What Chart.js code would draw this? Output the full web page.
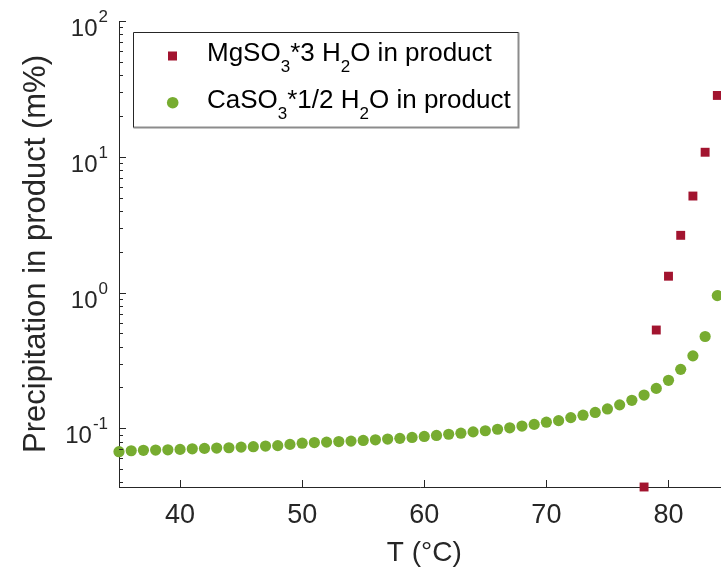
<!DOCTYPE html>
<html>
<head>
<meta charset="utf-8">
<script src="https://cdn.jsdelivr.net/npm/chart.js@4/dist/chart.umd.min.js"></script>
<style>
  html, body { margin: 0; padding: 0; background: #fff; overflow: hidden; }
  #chart { display: block; }
</style>
</head>
<body>
<canvas id="chart" width="721" height="570"></canvas>
<script>
// temperatures (°C)
const tempsCa = [35, 36, 37, 38, 39, 40, 41, 42, 43, 44, 45, 46, 47, 48, 49, 50, 51, 52, 53, 54,
  55, 56, 57, 58, 59, 60, 61, 62, 63, 64, 65, 66, 67, 68, 69, 70, 71, 72, 73, 74,
  75, 76, 77, 78, 79, 80, 81, 82, 83, 84];
const caValues = [0.0673, 0.0684, 0.0689, 0.0692, 0.0695, 0.0700, 0.0707, 0.0712, 0.0716, 0.0720,
  0.0728, 0.0733, 0.0741, 0.0746, 0.0762, 0.0778, 0.0786, 0.0792, 0.0800, 0.0806,
  0.0815, 0.0824, 0.0834, 0.0844, 0.0857, 0.0872, 0.0887, 0.0905, 0.0921, 0.0942,
  0.0960, 0.0985, 0.101, 0.104, 0.107, 0.111, 0.114, 0.120, 0.125, 0.131,
  0.139, 0.149, 0.161, 0.176, 0.197, 0.226, 0.272, 0.342, 0.475, 0.95];

const tempsMg = [78, 79, 80, 81, 82, 83, 84];
const mgValues = [0.037, 0.53, 1.32, 2.64, 5.14, 10.8, 28.3];

const xTicks = [40, 50, 60, 70, 80];
const yTickExps = [-1, 0, 1, 2];

const RED = '#A2142F';
const GREEN = '#77AC30';
const AX = '#262626';
const FONT = '"Liberation Sans", Arial, Helvetica, sans-serif';

// ticks inside the axes, tick labels, axis titles and legend
const decor = {
  id: 'decor',
  afterDraw(chart) {
    const ctx = chart.ctx;
    const xs = chart.scales.x, ys = chart.scales.y;
    const area = chart.chartArea;
    ctx.save();
    ctx.strokeStyle = AX;
    ctx.lineWidth = 1;

    // x ticks
    ctx.beginPath();
    xTicks.forEach(v => {
      const px = Math.round(xs.getPixelForValue(v)) + 0.5;
      ctx.moveTo(px, area.bottom);
      ctx.lineTo(px, area.bottom - 7);
    });
    // y ticks (major + minor)
    for (let e = -2; e <= 2; e++) {
      for (let m = 1; m <= 9; m++) {
        const v = m * Math.pow(10, e);
        if (v < ys.min || v > ys.max) continue;
        const py = Math.round(ys.getPixelForValue(v)) + 0.5;
        ctx.moveTo(area.left, py);
        ctx.lineTo(area.left + (m === 1 ? 7 : 4), py);
      }
    }
    ctx.stroke();

    ctx.fillStyle = AX;
    // x tick labels
    ctx.font = '27px ' + FONT;
    ctx.textAlign = 'center';
    ctx.textBaseline = 'middle';
    xTicks.forEach(v => ctx.fillText(String(v), xs.getPixelForValue(v), 516));

    // y tick labels 10^n
    ctx.textBaseline = 'alphabetic';
    ctx.textAlign = 'left';
    yTickExps.forEach(e => {
      const py = ys.getPixelForValue(Math.pow(10, e));
      const sup = String(e);
      ctx.font = '17px ' + FONT;
      const wSup = ctx.measureText(sup).width;
      ctx.font = '24px ' + FONT;
      const wBase = ctx.measureText('10').width;
      const right = 108;
      const x0 = right - wSup - wBase - 1;
      ctx.fillText('10', x0, py + 15);
      ctx.font = '17px ' + FONT;
      ctx.fillText(sup, x0 + wBase + 1, py + 1);
    });

    // axis titles (x title centred on the full 35–85 axis, which runs past the edge)
    ctx.font = '28px ' + FONT;
    ctx.textAlign = 'center';
    ctx.textBaseline = 'middle';
    ctx.fillText('T (°C)', (xs.getPixelForValue(35) + xs.getPixelForValue(85)) / 2, 553);
    ctx.save();
    ctx.translate(36, 254);
    ctx.rotate(-Math.PI / 2);
    ctx.font = '31px ' + FONT;
    ctx.fillText('Precipitation in product (m%)', 0, 0);
    ctx.restore();

    // legend box
    const lx = 133.5, ly = 32.5, lw = 385, lh = 95;
    ctx.fillStyle = '#fff';
    ctx.fillRect(lx, ly, lw, lh);
    ctx.strokeStyle = '#8c8c8c';
    ctx.lineWidth = 2;
    ctx.beginPath();
    ctx.moveTo(lx + lw, ly);
    ctx.lineTo(lx + lw, ly + lh);
    ctx.lineTo(lx, ly + lh);
    ctx.stroke();
    ctx.strokeStyle = AX;
    ctx.lineWidth = 1;
    ctx.beginPath();
    ctx.moveTo(lx, ly + lh);
    ctx.lineTo(lx, ly);
    ctx.lineTo(lx + lw, ly);
    ctx.stroke();

    ctx.fillStyle = RED;
    ctx.fillRect(168, 51.5, 9, 9);
    ctx.fillStyle = GREEN;
    ctx.beginPath();
    ctx.arc(172.7, 102.7, 5.8, 0, Math.PI * 2);
    ctx.fill();

    // legend text with subscripts
    const drawRuns = (runs, x, y) => {
      ctx.textAlign = 'left';
      ctx.textBaseline = 'alphabetic';
      ctx.fillStyle = '#000';
      runs.forEach(r => {
        ctx.font = (r[1] ? '17px ' : '26px ') + FONT;
        ctx.fillText(r[0], x, r[1] ? y + 11 : y);
        x += ctx.measureText(r[0]).width;
      });
    };
    drawRuns([['MgSO', 0], ['3', 1], ['*3 H', 0], ['2', 1], ['O in product', 0]], 207, 61);
    drawRuns([['CaSO', 0], ['3', 1], ['*1/2 H', 0], ['2', 1], ['O in product', 0]], 207, 107.5);

    ctx.restore();
  }
};

new Chart(document.getElementById('chart'), {
  type: 'scatter',
  data: {
    datasets: [
      {
        label: 'CaSO3*1/2 H2O in product',
        data: tempsCa.map((t, i) => ({ x: t, y: caValues[i] })),
        backgroundColor: GREEN,
        borderWidth: 0,
        pointStyle: 'circle',
        pointRadius: 5.6,
        clip: false
      },
      {
        label: 'MgSO3*3 H2O in product',
        data: tempsMg.map((t, i) => ({ x: t, y: mgValues[i] })),
        backgroundColor: RED,
        borderWidth: 0,
        pointStyle: 'rect',
        pointRadius: 6.3,
        clip: false
      }
    ]
  },
  options: {
    responsive: false,
    animation: false,
    layout: { autoPadding: false, padding: { left: 119, top: 21, right: 0, bottom: 83 } },
    plugins: { legend: { display: false }, tooltip: { enabled: false } },
    scales: {
      x: {
        type: 'linear',
        min: 35,
        max: 84.3, // the picture is cut just past 84 °C
        grid: { display: false },
        ticks: { display: false },
        border: { display: true, color: AX, width: 1 },
        afterFit: s => { s.height = 0; }
      },
      y: {
        type: 'logarithmic',
        min: 0.037,
        max: 100,
        grid: { display: false },
        ticks: { display: false },
        border: { display: true, color: AX, width: 1 },
        afterFit: s => { s.width = 0; }
      }
    }
  },
  plugins: [decor]
});
</script>
</body>
</html>
